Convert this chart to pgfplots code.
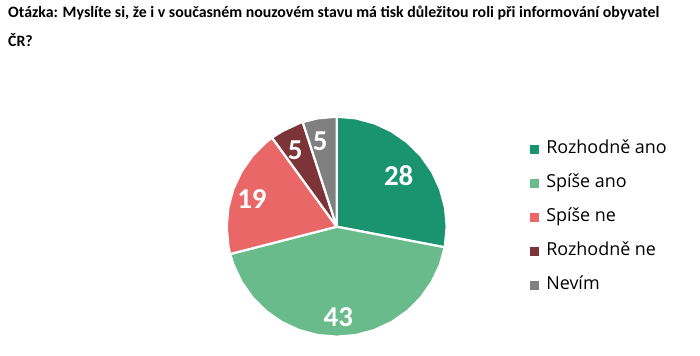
\documentclass[border=0pt]{standalone}
\usepackage{fontspec}
\usepackage{pgfplots}
\pgfplotsset{compat=1.18}
\usepgfplotslibrary{polar}
\setmainfont{Carlito}
\newfontfamily\legfont{Open Sans}
\definecolor{c1}{RGB}{26,148,110}
\definecolor{c2}{RGB}{106,187,139}
\definecolor{c3}{RGB}{234,103,104}
\definecolor{c4}{RGB}{125,52,56}
\definecolor{c5}{RGB}{128,128,128}
\begin{document}
\begin{tikzpicture}
\path[use as bounding box] (0,0) rectangle (700bp,356bp);
\node[anchor=base west, inner sep=0pt, font=\bfseries\fontsize{15.9}{18}\selectfont] at (8bp,338bp) {Otázka: Myslíte si, že i v současném nouzovém stavu má tisk důležitou roli při informování obyvatel};
\node[anchor=base west, inner sep=0pt, font=\bfseries\fontsize{15.9}{18}\selectfont] at (8bp,309bp) {ČR?};
\begin{polaraxis}[
  at={(336.7bp,129.3bp)}, anchor=center,
  scale only axis, width=220bp, height=220bp,
  hide axis, clip=false,
  ymin=0, ymax=1, xmin=0, xmax=360,
  legend cell align=left,
  legend style={at={(axis description cs:1.379,0.888)}, anchor=north west,
    draw=none, fill=none, inner sep=0pt, row sep=18bp, column sep=7bp,
    font=\legfont\fontsize{18}{20}\selectfont,
    nodes={inner sep=0pt, text height=12bp, text depth=4bp}},
  legend image code/.code={\fill[#1,draw=none] (0bp,-4.5bp) rectangle (9bp,4.5bp);},
]
\addplot[fill=c1, draw=white, line width=2.2bp, line join=round] coordinates {(0,0) (90,1) (80,1) (70,1) (60,1) (50,1) (40,1) (30,1) (20,1) (10,1) (0,1) (349.2,1) (0,0)};
\addplot[fill=c2, draw=white, line width=2.2bp, line join=round] coordinates {(0,0) (349.2,1) (340,1) (330,1) (320,1) (310,1) (300,1) (290,1) (280,1) (270,1) (260,1) (250,1) (240,1) (230,1) (220,1) (210,1) (200,1) (194.4,1) (0,0)};
\addplot[fill=c3, draw=white, line width=2.2bp, line join=round] coordinates {(0,0) (194.4,1) (190,1) (180,1) (170,1) (160,1) (150,1) (140,1) (130,1) (126,1) (0,0)};
\addplot[fill=c4, draw=white, line width=2.2bp, line join=round] coordinates {(0,0) (126,1) (120,1) (110,1) (108,1) (0,0)};
\addplot[fill=c5, draw=white, line width=2.2bp, line join=round] coordinates {(0,0) (108,1) (100,1) (90,1) (0,0)};
\addplot[forget plot, only marks, mark=none, point meta=explicit symbolic,
  nodes near coords,
  every node near coord/.append style={anchor=center, inner sep=0pt, text=white, font=\bfseries\fontsize{29}{29}\selectfont}]
  coordinates {(39.5,0.73) [28] (271,0.82) [43] (162,0.81) [19] (118.5,0.79) [5] (101,0.79) [5]};
\legend{Rozhodně ano, Spíše ano, Spíše ne, Rozhodně ne, Nevím}
\end{polaraxis}
\end{tikzpicture}
\end{document}
